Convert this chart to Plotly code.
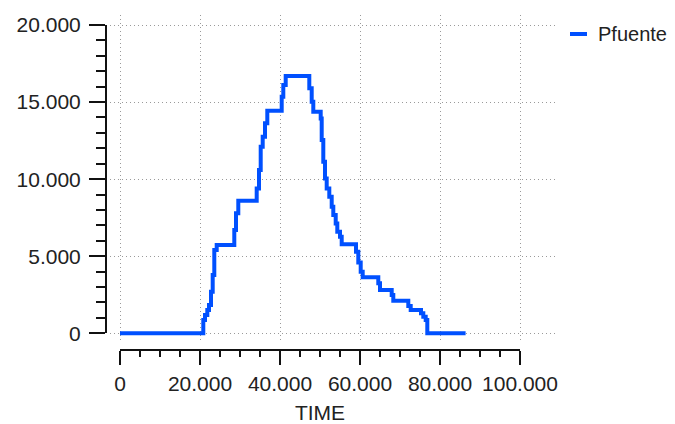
import plotly.graph_objects as go

# ---- data ----
time = [0, 20825, 21250, 21825, 22250, 22750, 23175, 23575, 24175,
        28575, 29000, 29575, 34175, 34750, 35175, 35675, 36250, 36825,
        40425, 40825, 41425, 47325, 47925, 48325, 50175, 50425, 50825,
        51250, 51675, 52325, 52925, 53325, 53925, 54325, 55000, 55425,
        59000, 59575, 60175, 60675, 64575, 65000, 67925, 68325, 72075,
        72675, 75250, 75825, 76425, 76825, 86400]
pfuente = [0, 860, 1190, 1510, 1840, 2700, 3780, 5400, 5730,
           6700, 7780, 8600, 9400, 10590, 12100, 12750, 13620, 14440,
           15340, 16100, 16690, 15890, 15020, 14370, 13940, 12540, 11130,
           10050, 9400, 8860, 8210, 7670, 7130, 6590, 6260, 5770,
           5290, 4600, 4000, 3630, 3240, 2810, 2480, 2110, 1770,
           1510, 1300, 1080, 860, 0, 0]
series_name = "Pfuente"
x_ticks = [0, 20000, 40000, 60000, 80000, 100000]
y_ticks = [0, 5000, 10000, 15000, 20000]

# ---- layout geometry (screen pixels; page body has an 8px margin) ----
OFF = 8
W, H = 675 - OFF, 424 - OFF
L, T = 106 - OFF, 15 - OFF
R = W - (557 - OFF)
B = H - (350 - OFF)
PW, PH = W - L - R, H - T - B


def fx(p):  # screen x -> paper fraction
    return (p - OFF - L) / PW


def fy(p):  # screen y -> paper fraction
    return (H - B - (p - OFF)) / PH


X0_PX, X100_PX = 120, 520
Y0_PX, Y20_PX = 333.3, 25
xs = (X100_PX - X0_PX) / 100000.0
ys = (Y0_PX - Y20_PX) / 20000.0
GX0, GX1 = 110, 557
GY0, GY1 = 342, 15

font = dict(family="Liberation Sans, Arial, sans-serif", size=21, color="#222")
leg_font = dict(family="Liberation Sans, Arial, sans-serif", size=20, color="#222")
blue = "#0050ff"
gridc = "#9a9a9a"

fig = go.Figure()
# invisible copy that keeps the decorative axes alive
fig.add_trace(go.Scatter(x=time, y=pfuente, mode="lines", showlegend=False,
                         hoverinfo="skip", opacity=0,
                         line=dict(color=blue, width=0),
                         xaxis="x2", yaxis="y2"))
fig.add_trace(go.Scatter(x=time, y=pfuente, mode="lines", name=series_name,
                         showlegend=False,
                         line=dict(color=blue, width=4, shape="hv"),
                         xaxis="x", yaxis="y"))

# legend entry (line sample + label)
LEG_Y = 34
fig.add_shape(type="line", xref="paper", yref="paper",
              x0=fx(570), x1=fx(587), y0=fy(LEG_Y), y1=fy(LEG_Y),
              line=dict(color=blue, width=4))
fig.add_annotation(text=series_name, xref="paper", yref="paper",
                   x=fx(596), y=fy(LEG_Y), xanchor="left", yanchor="middle",
                   showarrow=False, font=leg_font)

fig.update_layout(
    width=W, height=H,
    margin=dict(l=L, r=R, t=T, b=B, pad=0, autoexpand=False),
    plot_bgcolor="rgba(0,0,0,0)", paper_bgcolor="white",
    separators=",.",
    font=font,
    showlegend=False,
    xaxis=dict(domain=[fx(GX0), fx(GX1)],
               range=[-(X0_PX - GX0) / xs, (GX1 - X0_PX) / xs],
               tickvals=x_ticks, showticklabels=False, ticks="",
               showgrid=True, gridcolor=gridc, griddash="1px,3px", gridwidth=1,
               zeroline=False, showline=False, fixedrange=True, automargin=False),
    yaxis=dict(domain=[fy(GY0), fy(GY1)],
               range=[-(GY0 - Y0_PX) / ys, (Y0_PX - GY1) / ys],
               tickvals=y_ticks, showticklabels=False, ticks="",
               showgrid=True, gridcolor=gridc, griddash="1px,3px", gridwidth=1,
               zeroline=False, showline=False, fixedrange=True, automargin=False),
    xaxis2=dict(domain=[fx(X0_PX), fx(X100_PX)], range=[0, 100000],
                anchor="free", position=0, automargin=False,
                tickvals=x_ticks, tickformat=",d", ticklabelstandoff=1,
                ticks="outside", ticklen=14, tickwidth=2, tickcolor="#111",
                minor=dict(dtick=5000, ticks="outside", ticklen=6,
                           tickwidth=2, tickcolor="#111", showgrid=False),
                showline=True, linecolor="#111", linewidth=2,
                showgrid=False, zeroline=False, tickfont=font,
                title=dict(text="TIME", font=font, standoff=11)),
    yaxis2=dict(domain=[fy(Y0_PX), fy(Y20_PX)], range=[0, 20000],
                anchor="free", position=0, automargin=False,
                tickvals=y_ticks, tickformat=",d", ticklabelstandoff=4,
                ticks="outside", ticklen=16, tickwidth=2, tickcolor="#111",
                minor=dict(dtick=1000, ticks="outside", ticklen=9,
                           tickwidth=2, tickcolor="#111", showgrid=False),
                showline=True, linecolor="#111", linewidth=2,
                showgrid=False, zeroline=False, tickfont=font),
)

fig.write_html("out.html")
